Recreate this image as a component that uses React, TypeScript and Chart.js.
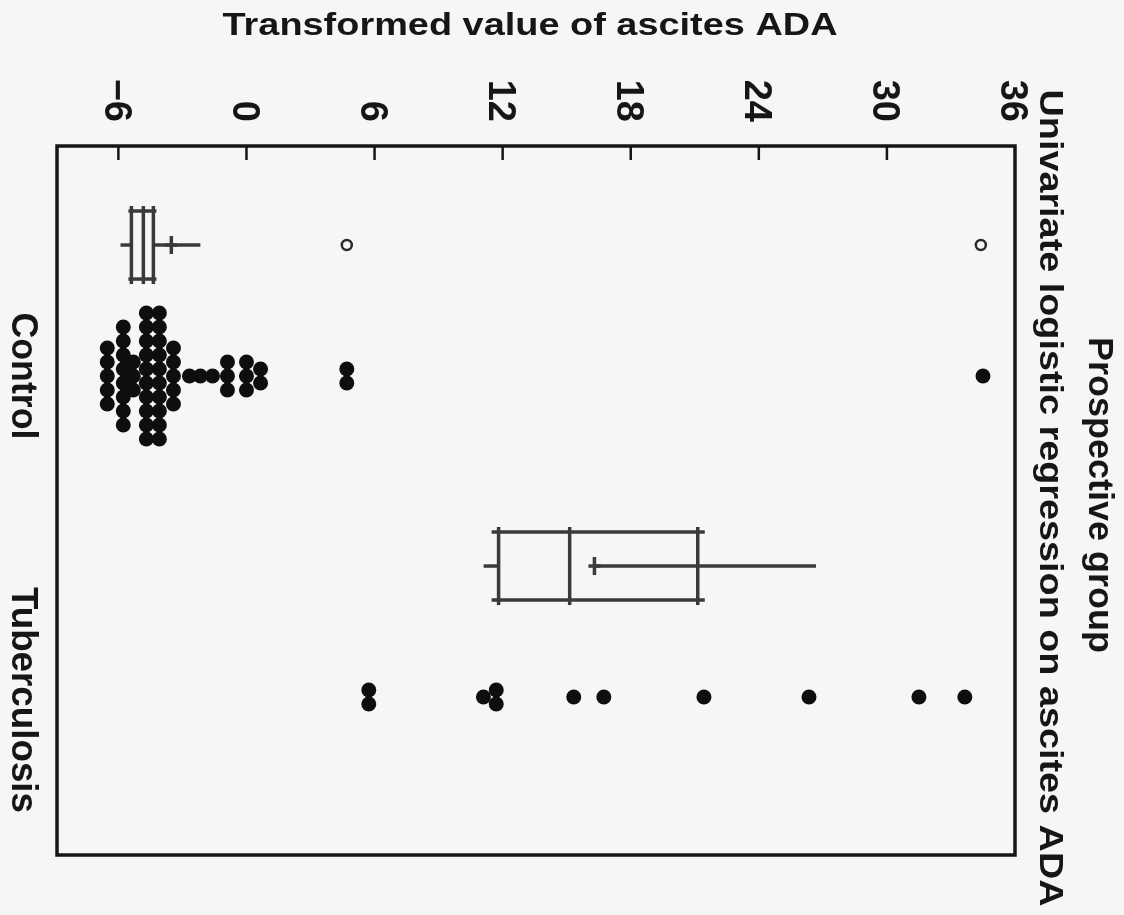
import React, { useEffect, useRef } from "react";
import { Chart, registerables } from "chart.js";

Chart.register(...registerables);

// ---- data ----
const categories = ["Control", "Tuberculosis"];
const xTickValues = [-6, 0, 6, 12, 18, 24, 30, 36];
const xTickLabels = ["\u22126", "0", "6", "12", "18", "24", "30", "36"];

const controlValues = [
  -6.52, -6.52, -6.52, -6.52, -6.52,
  -5.77, -5.77, -5.77, -5.77, -5.77, -5.77, -5.77, -5.77,
  -5.3, -5.3, -5.3,
  -4.69, -4.69, -4.69, -4.69, -4.69, -4.69, -4.69, -4.69, -4.69, -4.69,
  -4.08, -4.08, -4.08, -4.08, -4.08, -4.08, -4.08, -4.08, -4.08, -4.08,
  -3.42, -3.42, -3.42, -3.42, -3.42,
  -2.67, -2.16, -1.59,
  -0.89, -0.89, -0.89,
  0.0, 0.0, 0.0,
  0.66, 0.66,
  4.7, 4.7,
  34.5,
];
const tbValues = [5.73, 5.73, 11.1, 11.7, 11.7, 15.33, 16.74, 21.43, 26.35, 31.5, 33.65];

// box stats: [whisker low, Q1, median, Q3, whisker high]
const controlBox = [-5.9, -5.39, -4.83, -4.36, -2.16];
const controlMean = -3.52;
const controlOutliers = [4.7, 34.4];
const tbBox = [11.11, 11.81, 15.14, 21.14, 26.68];
const tbMean = 16.3;
const tbOutliers: number[] = [];

const axisTitle = "Transformed value of ascites ADA";
const titleLine1 = "Prospective group";
const titleLine2 = "Univariate logistic regression on ascites ADA";

// ---- layout constants ----
const W = 1124;
const H = 915;
const STACK = 0.0436; // vertical spacing between stacked dots (category units)
const BOX_OFFSET = -0.408;
const BOX_HALF = 0.106;
const FONT = '"Liberation Sans", Arial, Helvetica, sans-serif';
const INK = "#161616";
const BOX_INK = "#3a3a3a";

function stackPoints(values: number[], cat: number) {
  const groups = new Map<number, number>();
  values.forEach((v) => groups.set(v, (groups.get(v) || 0) + 1));
  const seen = new Map<number, number>();
  return values.map((v) => {
    const n = groups.get(v) || 1;
    const i = seen.get(v) || 0;
    seen.set(v, i + 1);
    return { x: v, y: cat + (i - (n - 1) / 2) * STACK };
  });
}

function drawText(
  ctx: CanvasRenderingContext2D,
  text: string,
  x: number,
  y: number,
  rot: number,
  size: number,
  targetLen: number | null,
  align: CanvasTextAlign,
  dy = 0,
  weight = "bold"
) {
  ctx.save();
  ctx.translate(x, y);
  ctx.rotate(rot);
  ctx.font = `${weight} ${size}px ${FONT}`;
  const w = ctx.measureText(text).width;
  const sx = targetLen ? targetLen / w : 1;
  ctx.scale(sx, 1);
  ctx.textAlign = align;
  ctx.textBaseline = "alphabetic";
  ctx.fillStyle = INK;
  ctx.fillText(text, 0, dy);
  ctx.restore();
}

const bgPlugin = {
  id: "bg",
  beforeDraw(chart: any) {
    const { ctx } = chart;
    ctx.save();
    ctx.fillStyle = "#f6f6f4";
    ctx.fillRect(0, 0, chart.width, chart.height);
    ctx.restore();
  },
};

const boxPlugin = {
  id: "boxes",
  beforeDatasetsDraw(chart: any) {
    const { ctx } = chart;
    const xs = chart.scales.x;
    const ys = chart.scales.y;
    const boxes = [
      { stats: controlBox, mean: controlMean, ext: 3 },
      { stats: tbBox, mean: tbMean, ext: 7 },
    ];
    ctx.save();
    ctx.strokeStyle = BOX_INK;
    ctx.lineWidth = 3.5;
    ctx.lineCap = "butt";
    boxes.forEach((b, i) => {
      const yc = ys.getPixelForValue(i + BOX_OFFSET);
      const half = Math.abs(ys.getPixelForValue(i + BOX_OFFSET + BOX_HALF) - yc);
      const [lo, q1, med, q3, hi] = b.stats.map((v) => xs.getPixelForValue(v));
      const mean = xs.getPixelForValue(b.mean);
      const line = (x1: number, y1: number, x2: number, y2: number) => {
        ctx.beginPath();
        ctx.moveTo(x1, y1);
        ctx.lineTo(x2, y2);
        ctx.stroke();
      };
      // box horizontals
      line(q1 - b.ext, yc - half, q3 + b.ext, yc - half);
      line(q1 - b.ext, yc + half, q3 + b.ext, yc + half);
      // verticals
      [q1, med, q3].forEach((x) => line(x, yc - half - 5, x, yc + half + 5));
      // whiskers
      line(lo, yc, q1, yc);
      line(Math.min(mean, q3), yc, hi, yc);
      // mean marker
      line(mean, yc - 9, mean, yc + 9);
      line(mean - 6, yc, mean + 6, yc);
    });
    ctx.restore();
  },
};

const framePlugin = {
  id: "frame",
  afterDraw(chart: any) {
    const { ctx, chartArea: a } = chart;
    const xs = chart.scales.x;
    ctx.save();
    ctx.strokeStyle = INK;
    ctx.lineWidth = 3.5;
    ctx.strokeRect(a.left, a.top, a.right - a.left, a.bottom - a.top);
    // inward tick marks on top axis
    ctx.lineWidth = 2.5;
    xTickValues.forEach((v) => {
      const x = xs.getPixelForValue(v);
      if (x > a.left + 2 && x < a.right - 2) {
        ctx.beginPath();
        ctx.moveTo(x, a.top);
        ctx.lineTo(x, a.top + 14);
        ctx.stroke();
      }
    });
    ctx.restore();

    // tick labels (rotated clockwise, reading top to bottom)
    const tickSize = 38;
    xTickValues.forEach((v, i) => {
      const x = xs.getPixelForValue(v);
      drawText(ctx, xTickLabels[i], x, a.top - 24, Math.PI / 2, tickSize, null, "right", tickSize * 0.358);
    });

    // value axis title (horizontal, on top)
    drawText(ctx, axisTitle, 530, 35, 0, 31, 615, "center");

    // category labels (left, rotated clockwise)
    const ys = chart.scales.y;
    const catLens = [127, 226];
    categories.forEach((c, i) => {
      const y = ys.getPixelForValue(i);
      drawText(ctx, c, 12, y + (i === 1 ? 3 : 0), Math.PI / 2, 36, catLens[i], "center");
    });

    // chart titles on the right, rotated clockwise
    drawText(ctx, titleLine1, 1089, 495, Math.PI / 2, 35, 316, "center");
    drawText(ctx, titleLine2, 1040, 498, Math.PI / 2, 34, 817, "center");
  },
};

export default function App() {
  const canvasRef = useRef<HTMLCanvasElement | null>(null);

  useEffect(() => {
    const canvas = canvasRef.current;
    if (!canvas) return;
    const outlierPoints = [
      ...controlOutliers.map((v) => ({ x: v, y: 0 + BOX_OFFSET })),
      ...tbOutliers.map((v) => ({ x: v, y: 1 + BOX_OFFSET })),
    ];
    const chart = new Chart(canvas, {
      type: "scatter",
      data: {
        datasets: [
          {
            label: categories[0],
            data: stackPoints(controlValues, 0),
            pointRadius: 7.5,
            pointBackgroundColor: "#0e0e0e",
            pointBorderWidth: 0,
          },
          {
            label: categories[1],
            data: stackPoints(tbValues, 1),
            pointRadius: 7.5,
            pointBackgroundColor: "#0e0e0e",
            pointBorderWidth: 0,
          },
          {
            label: "Outliers",
            data: outlierPoints,
            pointRadius: 5,
            pointBackgroundColor: "rgba(0,0,0,0)",
            pointBorderColor: "#2a2a2a",
            pointBorderWidth: 2.5,
          },
        ],
      },
      options: {
        animation: false,
        responsive: false,
        devicePixelRatio: 1,
        layout: { padding: { left: 57, right: W - 1015, top: 146, bottom: H - 855 } },
        scales: {
          x: { type: "linear", min: -8.875, max: 36, display: false },
          y: { type: "linear", min: -0.7165, max: 1.4922, reverse: true, display: false },
        },
        plugins: {
          legend: { display: false },
          tooltip: { enabled: false },
        },
      },
      plugins: [bgPlugin, boxPlugin, framePlugin],
    });
    return () => chart.destroy();
  }, []);

  return (
    <div style={{ position: "absolute", left: 0, top: 0, width: W, height: H }}>
      <canvas ref={canvasRef} width={W} height={H} style={{ display: "block", width: W, height: H }} />
    </div>
  );
}
